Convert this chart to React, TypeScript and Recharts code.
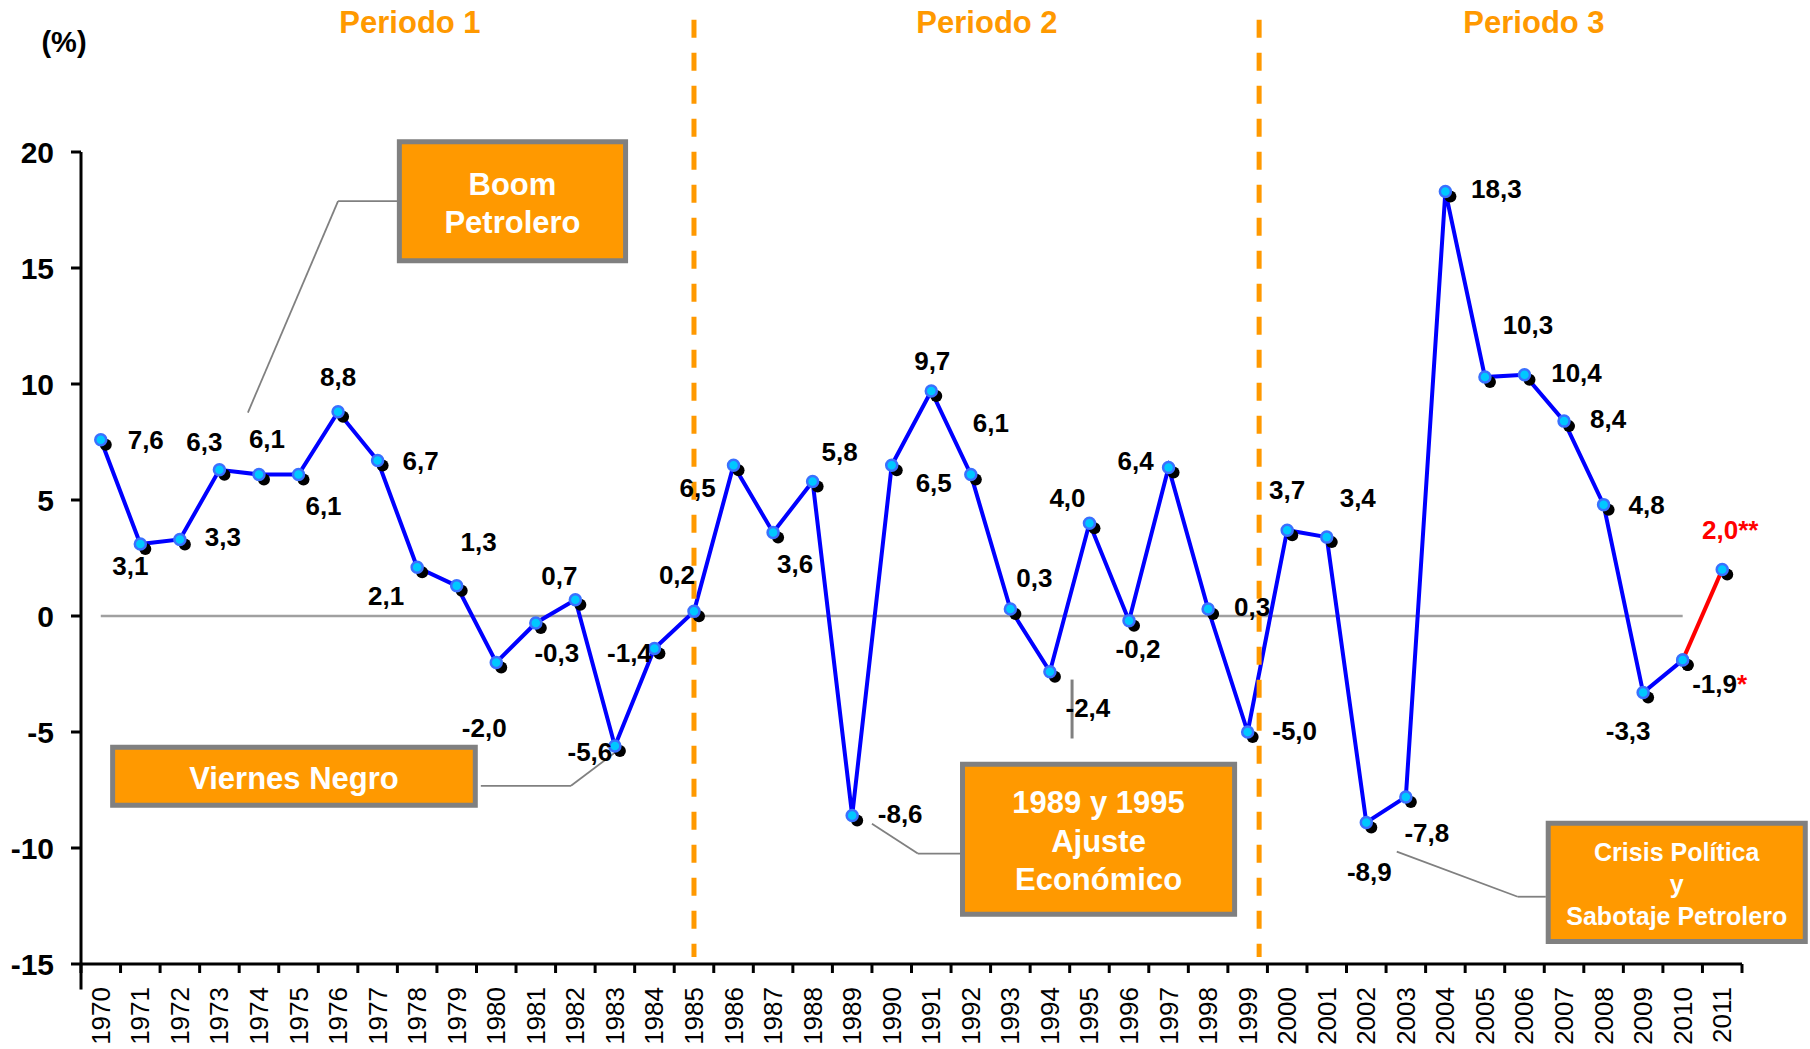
import { LineChart, Line, XAxis, YAxis, ReferenceLine, ReferenceArea } from 'recharts';

const years = [
  1970, 1971, 1972, 1973, 1974, 1975, 1976, 1977, 1978, 1979,
  1980, 1981, 1982, 1983, 1984, 1985, 1986, 1987, 1988, 1989,
  1990, 1991, 1992, 1993, 1994, 1995, 1996, 1997, 1998, 1999,
  2000, 2001, 2002, 2003, 2004, 2005, 2006, 2007, 2008, 2009,
  2010, 2011,
];

// PIB real, variación anual (%), 1970-2010
const growth = [
  7.6, 3.1, 3.3, 6.3, 6.1, 6.1, 8.8, 6.7, 2.1, 1.3,
  -2.0, -0.3, 0.7, -5.6, -1.4, 0.2, 6.5, 3.6, 5.8, -8.6,
  6.5, 9.7, 6.1, 0.3, -2.4, 4.0, -0.2, 6.4, 0.3, -5.0,
  3.7, 3.4, -8.9, -7.8, 18.3, 10.3, 10.4, 8.4, 4.8, -3.3,
  -1.9,
];

// tramo estimado
const estimateYears = [2010, 2011];
const estimate = [-1.9, 2.0];
const notes: Record<number, string> = { 2010: '*', 2011: '**' };

const yTicks = [-15, -10, -5, 0, 5, 10, 15, 20];
const periods = ['Periodo 1', 'Periodo 2', 'Periodo 3'];
const periodBreaks = [1985, 1999.29];

const table = years.map((year, i) => {
  const ei = estimateYears.indexOf(year);
  const real = i < growth.length ? growth[i] : null;
  const est = ei >= 0 ? estimate[ei] : null;
  return { year, real, est, label: real ?? est };
});

// where each value label sits relative to its point (px)
const labelOffsets = [
  [45, 0], [-10, 22], [43, -2], [-15, -28], [8, -35], [25, 32], [0, -35], [43, 0],
  [-31, 29], [22, -44], [-12, 66], [21, 30], [-16, -24], [-25, 6], [-25, 5], [-17, -36],
  [-36, 23], [22, 32], [27, -29], [48, -2], [42, 18], [1, -30], [20, -51], [24, -31],
  [38, 36], [-22, -25], [9, 28], [-33, -7], [44, -2], [47, -1], [0, -40], [31, -39],
  [3, 50], [21, 36], [51, -2], [43, -52], [52, -2], [44, -2], [43, 0], [-15, 38],
  [37, 24], [8, -40],
];

const callouts = [
  { x1: 1977.55, x2: 1983.27, y1: 20.44, y2: 15.31, lines: ['Boom', 'Petrolero'], size: 31, gap: 38 },
  { x1: 1970.3, x2: 1979.47, y1: -5.66, y2: -8.16, lines: ['Viernes Negro'], size: 31, gap: 38 },
  { x1: 1991.79, x2: 1998.67, y1: -6.39, y2: -12.86, lines: ['1989 y 1995', 'Ajuste', 'Económico'], size: 31, gap: 38.5 },
  { x1: 2006.6, x2: 2013.1, y1: -8.93, y2: -14.03, lines: ['Crisis Política', 'y', 'Sabotaje Petrolero'], size: 25, gap: 32 },
];

const leaders = [
  [[1977.52, 17.88], [1976.0, 17.88]],
  [[1976.0, 17.88], [1973.72, 8.77]],
  [[1979.61, -7.32], [1981.89, -7.32]],
  [[1981.89, -7.32], [1983.0, -5.89]],
  [[1991.73, -10.24], [1990.66, -10.24]],
  [[1990.66, -10.24], [1989.5, -8.95]],
  [[2006.54, -12.1], [2005.83, -12.1]],
  [[2005.83, -12.1], [2002.77, -10.16]],
  [[1994.56, -2.74], [1994.56, -5.28]],
];

const xTicks = [...years.map((y) => y - 0.5), years[years.length - 1] + 0.5, ...years];

const FONT = '"Liberation Sans", Arial, Helvetica, sans-serif';

function YearTick(props: any) {
  const { x, y, payload } = props;
  const v = payload.value;
  if (!Number.isInteger(v)) {
    return <line x1={x} y1={y} x2={x} y2={y + 9} stroke="#000" strokeWidth={3} />;
  }
  return (
    <text
      x={x}
      y={y + 23}
      transform={`rotate(-90 ${x} ${y + 23})`}
      textAnchor="end"
      dominantBaseline="central"
      fontSize={26}
      fill="#000"
    >
      {v}
    </text>
  );
}

function Marker(props: any) {
  const { cx, cy, index, value } = props;
  if (cx == null || cy == null || value == null) return <g key={`e-${index}`} />;
  return (
    <g key={`m-${index}`}>
      <circle cx={cx + 5} cy={cy + 5} r={6} fill="#000" />
      <circle cx={cx} cy={cy} r={5.5} fill="#00c8ff" stroke="#3a70ff" strokeWidth={2.5} />
    </g>
  );
}

function ValueLabel(props: any) {
  const { cx, cy, index, payload } = props;
  if (cx == null || cy == null || payload?.label == null) return <g key={`e-${index}`} />;
  const [dx, dy] = labelOffsets[index];
  const txt = payload.label.toFixed(1).replace('.', ',');
  const note = notes[payload.year];
  const red = payload.year === 2011;
  return (
    <text
      key={`l-${index}`}
      x={cx + dx}
      y={cy + dy}
      textAnchor="middle"
      dominantBaseline="central"
      fontSize={26}
      fontWeight="bold"
      fill={red ? '#ff0000' : '#000'}
    >
      {txt}
      {note && <tspan fill="#ff0000">{note}</tspan>}
    </text>
  );
}

function BoxText(props: any) {
  const { viewBox, lines, size, gap } = props;
  if (!viewBox) return null;
  const { x, y, width, height } = viewBox;
  const cx = x + width / 2;
  const start = y + height / 2 - ((lines.length - 1) * gap) / 2 + 2;
  return (
    <g>
      {lines.map((l: string, i: number) => (
        <text
          key={i}
          x={cx}
          y={start + i * gap}
          textAnchor="middle"
          dominantBaseline="central"
          fill="#fff"
          fontWeight="bold"
          fontSize={size}
        >
          {l}
        </text>
      ))}
    </g>
  );
}

export default function App() {
  return (
    <div style={{ position: 'absolute', left: 0, top: 0, width: 1810, height: 1049, background: '#fff', fontFamily: FONT }}>
      <LineChart width={1810} height={1049} data={table} margin={{ top: 152, right: 68, bottom: 0, left: 0 }}>
        <XAxis
          type="number"
          dataKey="year"
          domain={[1969.5, 2011.5]}
          ticks={xTicks}
          interval={0}
          height={85}
          tickSize={0}
          tickMargin={0}
          tickLine={false}
          axisLine={{ stroke: '#000', strokeWidth: 3 }}
          tick={<YearTick />}
        />
        <YAxis
          type="number"
          domain={[-15, 20]}
          ticks={yTicks}
          interval={0}
          width={81}
          tickSize={10}
          tickMargin={17}
          axisLine={{ stroke: '#000', strokeWidth: 3 }}
          tickLine={{ stroke: '#000', strokeWidth: 3 }}
          tick={{ fontSize: 30, fontWeight: 'bold', fill: '#000' }}
        />
        <ReferenceLine
          segment={[{ x: 1970, y: 0 }, { x: 2010, y: 0 }]}
          stroke="#a0a0a0"
          strokeWidth={2.5}
        />
        <ReferenceLine
          segment={[{ x: 1969.5, y: -15 }, { x: 1969.5, y: -16.1 }]}
          stroke="#000"
          strokeWidth={3}
          ifOverflow="visible"
        />
        <Line
          dataKey="real"
          stroke="#0000ff"
          strokeWidth={4}
          dot={Marker}
          activeDot={false}
          isAnimationActive={false}
          connectNulls={false}
        />
        <Line
          dataKey="est"
          stroke="#ff0000"
          strokeWidth={4}
          dot={Marker}
          activeDot={false}
          isAnimationActive={false}
        />
        <Line
          dataKey="label"
          stroke="none"
          dot={ValueLabel}
          activeDot={false}
          isAnimationActive={false}
        />
        {periodBreaks.map((b) => (
          <ReferenceLine
            key={b}
            segment={[{ x: b, y: 25.7 }, { x: b, y: -14.7 }]}
            stroke="#ff9900"
            strokeWidth={5}
            strokeDasharray="18 15"
            ifOverflow="visible"
          />
        ))}
        {leaders.map((s, i) => (
          <ReferenceLine
            key={`ld-${i}`}
            segment={[{ x: s[0][0], y: s[0][1] }, { x: s[1][0], y: s[1][1] }]}
            stroke="#808080"
            strokeWidth={i === leaders.length - 1 ? 3 : 1.8}
            ifOverflow="visible"
          />
        ))}
        {callouts.map((c, i) => (
          <ReferenceArea
            key={`co-${i}`}
            x1={c.x1}
            x2={c.x2}
            y1={c.y1}
            y2={c.y2}
            fill="#ff9900"
            fillOpacity={1}
            stroke="#808080"
            strokeWidth={5}
            ifOverflow="visible"
            label={(p: any) => <BoxText viewBox={p.viewBox} lines={c.lines} size={c.size} gap={c.gap} />}
          />
        ))}
      </LineChart>
      <svg
        width={1810}
        height={70}
        style={{ position: 'absolute', left: 0, top: 0, pointerEvents: 'none' }}
      >
        <text x={64} y={42} textAnchor="middle" dominantBaseline="central" fontSize={29} fontWeight="bold" fill="#000">
          (%)
        </text>
        {periods.map((p, i) => (
          <text
            key={p}
            x={[410, 987, 1534][i]}
            y={22}
            textAnchor="middle"
            dominantBaseline="central"
            fontSize={31}
            fontWeight="bold"
            fill="#ff9900"
          >
            {p}
          </text>
        ))}
      </svg>
    </div>
  );
}
